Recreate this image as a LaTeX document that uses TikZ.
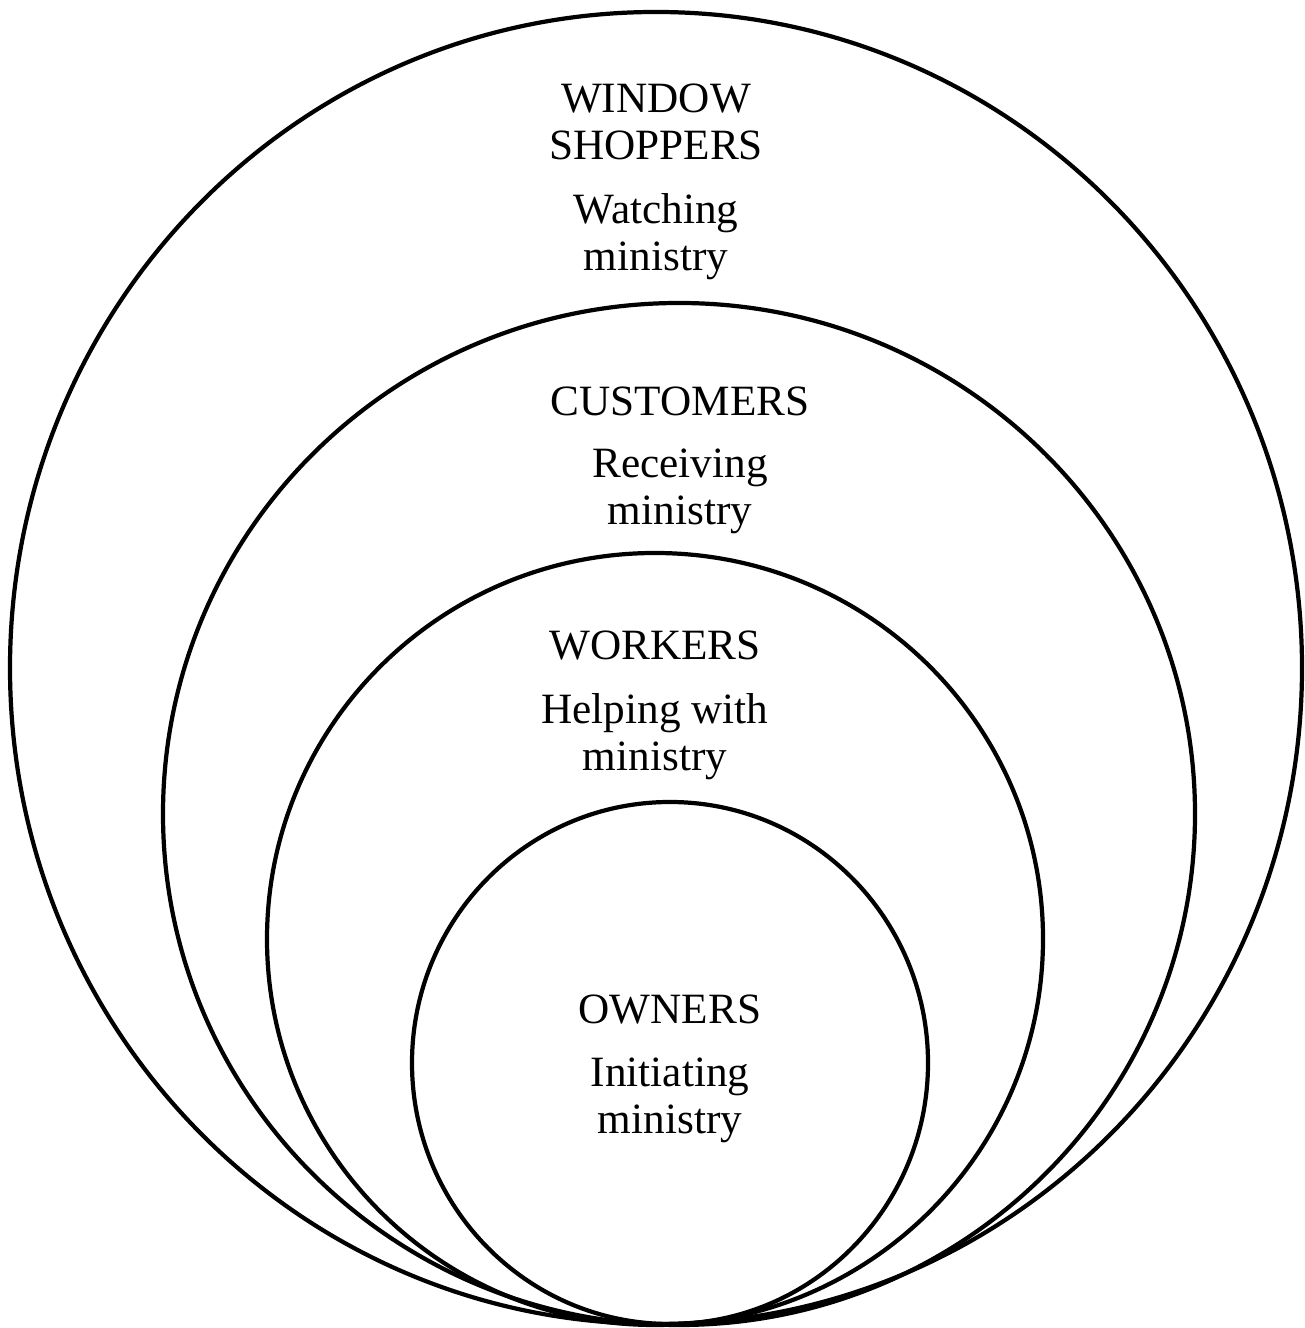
\documentclass[tikz,border=0pt]{standalone}
\usepackage{fontspec}
\setmainfont{Liberation Serif}
\usetikzlibrary{positioning}

\begin{document}
\begin{tikzpicture}[line width=1.2pt,
  every node/.style={font=\fontsize{12.3}{13.4}\selectfont, align=center, inner sep=0pt},
  title/.style={},
  sub/.style={below=0.29cm of #1}]
                \useasboundingbox (0,0) rectangle (13.04,13.28);
                % nested rings, all touching at the bottom
                \draw (6.56,6.60) ellipse (6.46 and 6.56);
                \draw (6.79,5.14) ellipse (5.16 and 5.11);
                \draw (6.55,3.89) ellipse (3.88 and 3.86);
                \draw (6.70,2.65) ellipse (2.58 and 2.61);
                % labels
                \node[title] (window) at (6.56,12.06) {WINDOW\\SHOPPERS};
                \node[sub=window] (watching) {Watching\\ministry};
                \node[title] (customers) at (6.80,9.27) {CUSTOMERS};
                \node[sub=customers] (receiving) {Receiving\\ministry};
                \node[title] (workers) at (6.55,6.82) {WORKERS};
                \node[sub=workers] (helping) {Helping with\\ministry};
                \node[title] (owners) at (6.70,3.18) {OWNERS};
                \node[sub=owners] (initiating) {Initiating\\ministry};
\end{tikzpicture}
\end{document}
